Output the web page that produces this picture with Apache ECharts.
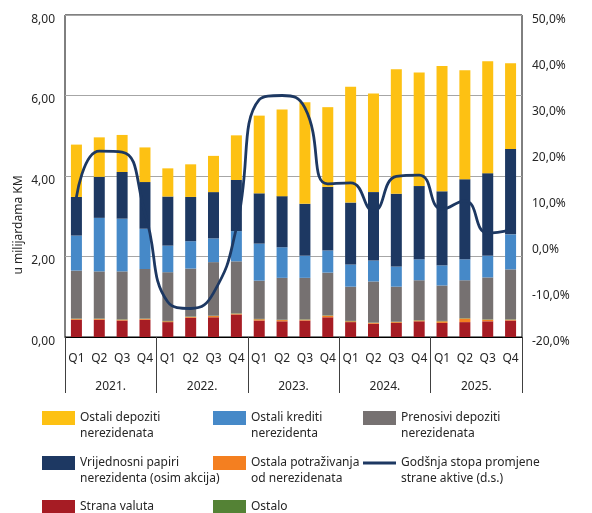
<!DOCTYPE html>
<html>
<head>
<meta charset="utf-8">
<script src="https://cdn.jsdelivr.net/npm/echarts@6/dist/echarts.min.js"></script>
<style>
  html, body { margin: 0; padding: 0; background: #fff; }
  #chart { width: 592px; height: 513px; }
</style>
</head>
<body>
<div id="chart"></div>
<script>
const quarters = ['Q1', 'Q2', 'Q3', 'Q4', 'Q1', 'Q2', 'Q3', 'Q4', 'Q1', 'Q2', 'Q3', 'Q4',
    'Q1', 'Q2', 'Q3', 'Q4', 'Q1', 'Q2', 'Q3', 'Q4'];
const years = ['2021.', '2022.', '2023.', '2024.', '2025.'];

// u milijardama KM
const stranaValuta = [0.43, 0.43, 0.41, 0.43, 0.37, 0.48, 0.49, 0.56, 0.41, 0.39,
    0.41, 0.49, 0.37, 0.33, 0.35, 0.39, 0.35, 0.37, 0.39, 0.41];
const ostalaPotrazivanja = [0.02, 0.02, 0.02, 0.02, 0.02, 0.02, 0.03, 0.02, 0.03, 0.03,
    0.02, 0.04, 0.02, 0.02, 0.02, 0.02, 0.04, 0.09, 0.04, 0.02];
const ostalo = [0.01, 0.01, 0.01, 0.01, 0.01, 0.01, 0.01, 0.01, 0.01, 0.01,
    0.01, 0.01, 0.01, 0.01, 0.01, 0.01, 0.01, 0.01, 0.01, 0.01];
const prenosiviDepoziti = [1.19, 1.17, 1.19, 1.23, 1.21, 1.19, 1.33, 1.29, 0.95, 1.04,
    1.03, 1.06, 0.85, 1.02, 0.87, 0.99, 0.88, 0.94, 1.04, 1.24];
const ostaliKrediti = [0.87, 1.33, 1.31, 1.00, 0.66, 0.68, 0.59, 0.75, 0.92, 0.76,
    0.55, 0.55, 0.55, 0.52, 0.50, 0.52, 0.50, 0.52, 0.54, 0.87];
const vrijednosniPapiri = [0.96, 1.02, 1.16, 1.16, 1.22, 1.10, 1.15, 1.27, 1.25, 1.27,
    1.29, 1.58, 1.54, 1.70, 1.81, 1.82, 1.84, 1.99, 2.05, 2.12];
const ostaliDepoziti = [1.30, 0.98, 0.92, 0.86, 0.70, 0.81, 0.90, 1.11, 1.93, 2.15,
    2.52, 1.98, 2.88, 2.45, 3.09, 2.82, 3.11, 2.71, 2.78, 2.13];
// %, desna skala
const godisnjaStopa = [10.4, 20.4, 20.2, 7.0, -12.4, -13.8, -10.4, 3.7, 31.6, 32.5,
    29.8, 13.3, 13.5, 7.4, 14.9, 15.2, 7.8, 9.6, 2.6, 3.3];

const leftTicks = { min: 0, max: 8, interval: 2 };
const rightTicks = { min: -20, max: 50, interval: 10 };

const font = 'Noto Sans';
const textColor = '#262626';

const names = {
    dep: 'Ostali depoziti\nnerezidenata',
    kred: 'Ostali krediti\nnerezidenta',
    pren: 'Prenosivi depoziti\nnerezidenata',
    vp: 'Vrijednosni papiri\nnerezidenta (osim akcija)',
    pot: 'Ostala potraživanja\nod nerezidenata',
    stopa: 'Godšnja stopa promjene\nstrane aktive (d.s.)',
    val: 'Strana valuta',
    ost: 'Ostalo'
};

function barSeries(name, data, color) {
    return {
        name: name,
        type: 'bar',
        stack: 'aktiva',
        barWidth: 11,
        data: data,
        itemStyle: { color: color },
        emphasis: { disabled: true }
    };
}

function legendItem(name, left, top, twoLines, icon) {
    return {
        data: [name],
        left: left,
        top: top,
        padding: 0,
        itemWidth: 33,
        itemHeight: 14,
        icon: icon || 'rect',
        selectedMode: false,
        // blank first line keeps the icon level with the first text line
        formatter: twoLines ? function (n) { return '\n' + n; } : '{name}',
        textStyle: {
            fontFamily: font,
            fontSize: 12,
            color: textColor,
            lineHeight: 16
        }
    };
}

const chart = echarts.init(document.getElementById('chart'), null, { renderer: 'canvas' });

const option = {
    animation: false,
    backgroundColor: '#fff',
    grid: {
        left: 65,
        right: 70,
        top: 15,
        bottom: 176,
        show: true,
        borderColor: '#000',
        borderWidth: 1,
        containLabel: false
    },
    legend: [
        legendItem(names.dep, 42, 394, true),
        legendItem(names.kred, 213, 394, true),
        legendItem(names.pren, 363, 394, true),
        legendItem(names.vp, 42, 439, true),
        legendItem(names.pot, 213, 439, true),
        legendItem(names.stopa, 363, 439, true, 'path://M0,6 L33,6 L33,9 L0,9 Z'),
        legendItem(names.val, 42, 499, false),
        legendItem(names.ost, 213, 499, false)
    ],
    xAxis: [{
        type: 'category',
        data: quarters,
        position: 'bottom',
        axisLine: { show: true, onZero: false, lineStyle: { color: '#000', width: 1 } },
        axisTick: { show: false },
        axisLabel: {
            interval: 0,
            margin: 16,
            fontFamily: font,
            fontSize: 12,
            color: textColor
        }
    }, {
        type: 'category',
        data: years,
        position: 'bottom',
        axisLine: { show: false, onZero: false },
        axisTick: {
            show: true,
            inside: false,
            interval: 0,
            length: 56,
            lineStyle: { color: '#404040', width: 1 }
        },
        axisLabel: {
            interval: 0,
            margin: 44,
            fontFamily: font,
            fontSize: 12,
            color: textColor
        }
    }],
    yAxis: [{
        type: 'value',
        min: leftTicks.min,
        max: leftTicks.max,
        interval: leftTicks.interval,
        axisLine: { show: false },
        axisTick: { show: false },
        splitLine: { show: true, lineStyle: { color: '#a6a6a6', width: 1 } },
        axisLabel: {
            margin: 10,
            verticalAlign: 'top',
            lineHeight: 9,
            fontFamily: font,
            fontSize: 12,
            color: textColor,
            formatter: function (v) { return v.toFixed(2).replace('.', ','); }
        }
    }, {
        type: 'value',
        min: rightTicks.min,
        max: rightTicks.max,
        interval: rightTicks.interval,
        axisLine: { show: false },
        axisTick: { show: false },
        splitLine: { show: false },
        axisLabel: {
            margin: 10,
            verticalAlign: 'top',
            lineHeight: 9,
            fontFamily: font,
            fontSize: 12,
            color: textColor,
            formatter: function (v) { return v.toFixed(1).replace('.', ',') + '%'; }
        }
    }],
    graphic: [{
        type: 'text',
        x: 19,
        y: 225,
        rotation: Math.PI / 2,
        style: {
            text: 'u milijardama KM',
            fontFamily: font,
            fontSize: 12,
            fill: textColor,
            align: 'center',
            verticalAlign: 'middle'
        }
    }],
    series: [
        barSeries(names.val, stranaValuta, '#a61c24'),
        barSeries(names.pot, ostalaPotrazivanja, '#f47f20'),
        barSeries(names.ost, ostalo, '#548235'),
        barSeries(names.pren, prenosiviDepoziti, '#767171'),
        barSeries(names.kred, ostaliKrediti, '#4689c8'),
        barSeries(names.vp, vrijednosniPapiri, '#1d3862'),
        barSeries(names.dep, ostaliDepoziti, '#fdc113'),
        {
            name: names.stopa,
            type: 'line',
            yAxisIndex: 1,
            data: godisnjaStopa,
            smooth: 0.5,
            symbol: 'none',
            z: 5,
            itemStyle: { color: '#1d3862' },
            lineStyle: { color: '#1d3862', width: 2.8 },
            emphasis: { disabled: true }
        }
    ]
};

chart.setOption(option);
</script>
</body>
</html>
